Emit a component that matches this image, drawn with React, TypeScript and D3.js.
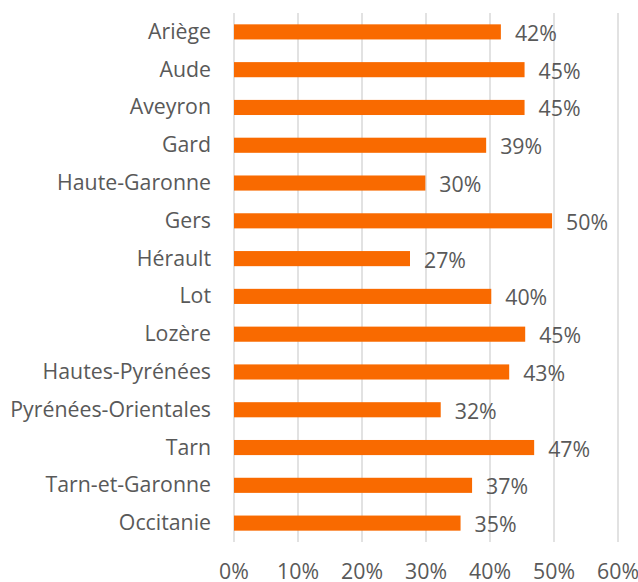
import React from 'react'
import * as d3 from 'd3'

// departments and share values (%)
const departements = ['Ariège', 'Aude', 'Aveyron', 'Gard', 'Haute-Garonne', 'Gers', 'Hérault', 'Lot', 'Lozère', 'Hautes-Pyrénées', 'Pyrénées-Orientales', 'Tarn', 'Tarn-et-Garonne', 'Occitanie']
const valeurs = [41.7, 45.4, 45.4, 39.4, 29.9, 49.7, 27.5, 40.2, 45.5, 43.0, 32.3, 46.9, 37.2, 35.4]
const etiquettes = ['42%', '45%', '45%', '39%', '30%', '50%', '27%', '40%', '45%', '43%', '32%', '47%', '37%', '35%']
const ticks = [0, 10, 20, 30, 40, 50, 60]

const W = 638
const H = 582
const FONT = '"Open Sans", sans-serif'
const TEXT = '#595959'
const FS = 21.3

const App = () => {
  const x = d3.scaleLinear().domain([0, 60]).range([234, 618])
  const y = d3.scaleBand().domain(departements).range([13, 542]).paddingInner(0.6).paddingOuter(0.3)

  return (
    <svg width={W} height={H} style={{ position: 'absolute', left: 0, top: 0 }}>
      {/* vertical gridlines */}
      {ticks.map(t => (
        <line key={t} x1={x(t)} x2={x(t)} y1={13} y2={542} stroke="#d9d9d9" strokeWidth={1.5} />
      ))}
      {departements.map((d, i) => (
        <g key={d}>
          <rect x={x(0)} y={y(d)} width={x(valeurs[i]) - x(0)} height={y.bandwidth()} fill="#f96a00" />
          <text x={211} y={y(d)! + y.bandwidth() / 2 + 7} textAnchor="end"
            fontFamily={FONT} fontSize={FS} fill={TEXT}>{d}</text>
          <text x={x(valeurs[i]) + 14} y={y(d)! + y.bandwidth() / 2 + 9} 
            fontFamily={FONT} fontSize={FS} fill={TEXT}>{etiquettes[i]}</text>
        </g>
      ))}
      {ticks.map(t => (
        <text key={t} x={x(t)} y={579} textAnchor="middle"
          fontFamily={FONT} fontSize={FS} fill={TEXT}>{t}%</text>
      ))}
    </svg>
  )
}

export default App
